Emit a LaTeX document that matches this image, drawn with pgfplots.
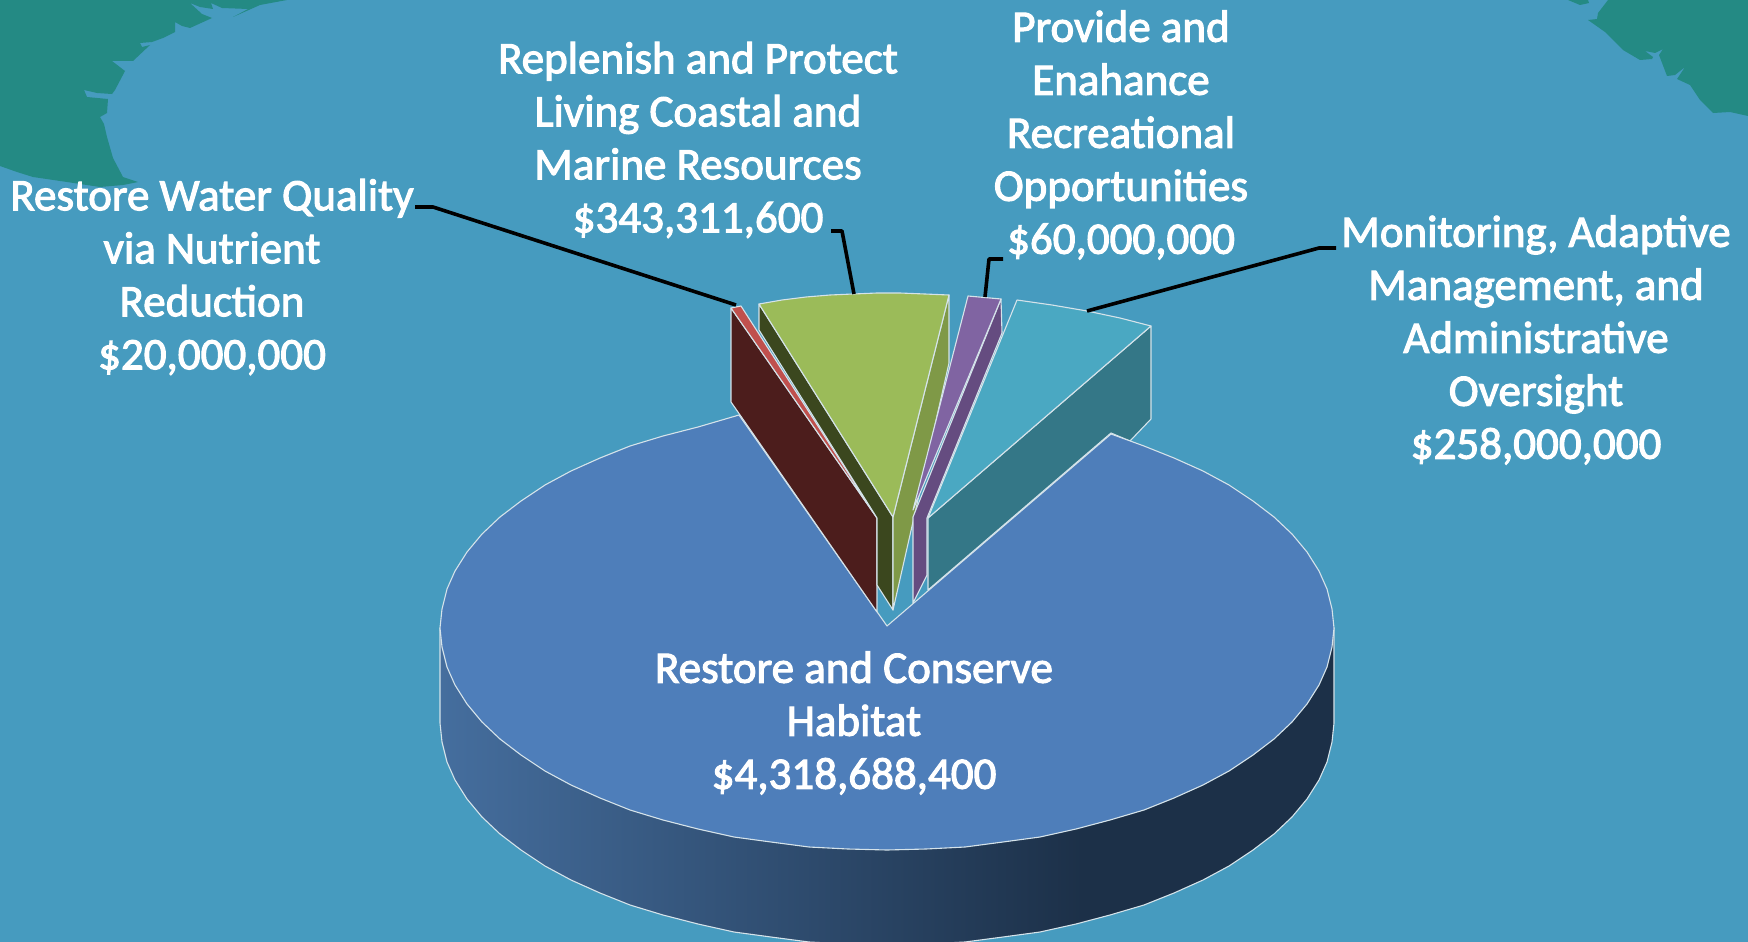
\documentclass[border=0pt]{standalone}
\usepackage{fontspec}
\setmainfont{Carlito}[BoldFont=Carlito,BoldFeatures={FakeBold=2.4}]
\usepackage{pgfplots}
\pgfplotsset{compat=1.18}
\definecolor{sea}{HTML}{469BBF}
\definecolor{land}{HTML}{248A84}
\definecolor{edge}{HTML}{D5E3EA}
\definecolor{habtop}{HTML}{4E7EBA}
\definecolor{sideL}{HTML}{456E9E}
\definecolor{sideD}{HTML}{1C3048}
\definecolor{redtop}{HTML}{C0504D}
\definecolor{redside}{HTML}{4C1D1C}
\definecolor{greentop}{HTML}{9BBB59}
\definecolor{greendark}{HTML}{3B471E}
\definecolor{greenside}{HTML}{7F9947}
\definecolor{purptop}{HTML}{8064A2}
\definecolor{purpside}{HTML}{654C80}
\definecolor{cyantop}{HTML}{4AA8C2}
\definecolor{cyanside}{HTML}{347787}
\pgfdeclarehorizontalshading{rimshade}{100bp}{color(0bp)=(sideL); color(25bp)=(sideL); color(61bp)=(sideD); color(100bp)=(sideD)}
\tikzset{
    lab/.style={text=white, align=center, font=\fontsize{45}{53}\selectfont\bfseries},
    lead/.style={draw=black, line width=3.6pt},
    rim/.style={draw=edge, line width=1.1pt},
}
\begin{document}
\begin{tikzpicture}
\begin{axis}[
    scale only axis, width=1748pt, height=942pt,
    xmin=0, xmax=1748, ymin=0, ymax=942, y dir=reverse,
    hide axis,
    every axis plot/.append style={line join=round, no markers},
]
% sea and coasts
\addplot[fill=sea, draw=none] coordinates {(0,0)(1748,0)(1748,942)(0,942)} --cycle;
\addplot[fill=land, draw=none] coordinates {(287,0)(260,5)(233,17)(248,9)(222,8)(211,3)(213,9)(200,7)(190,3)(202,14)(212,18)(190,28)(182,26)(175,22)(175,32)(163,38)(152,42)(140,43)(142,47)(150,45)(133,61)(112,61)(125,71)(115,90)(112,94)(97,93)(84,90)(87,97)(108,99)(107,113)(100,117)(104,124)(107,137)(113,158)(123,177)(138,182)(123,185)(100,187)(67,182)(33,177)(17,172)(0,166)(0,0)} --cycle;
\addplot[fill=land, draw=none] coordinates {(1608,0)(1598,13)(1597,19)(1588,20)(1605,32)(1623,50)(1640,60)(1652,59)(1653,57)(1645,51)(1655,53)(1663,49)(1659,55)(1667,76)(1675,75)(1685,67)(1677,79)(1690,85)(1700,100)(1713,113)(1730,112)(1748,116)(1748,0)} --cycle;
\addplot[fill=land, draw=none] coordinates {(1568,0)(1580,5)(1589,3)(1588,0)} --cycle;
% rim of the big slice
\addplot[rim, shading=rimshade] coordinates {(1334,628)(1334,723)(1332,742)(1327,762)(1319,780)(1307,799)(1292,817)(1274,834)(1253,850)(1229,866)(1203,880)(1174,893)(1144,905)(1110,915)(1076,924)(1040,932)(1003,937)(965,942)(926,944)(887,945)(848,944)(809,942)(771,937)(734,932)(698,924)(663,915)(630,905)(600,893)(571,880)(545,866)(521,850)(500,834)(482,817)(467,799)(455,780)(447,762)(442,742)(440,723)(440,628)} --cycle;
% teal side sits behind the big slice
\addplot[rim, fill=cyanside] coordinates {(928,518)(928,590)(1111,433)(1130,441)(1151,419)(1151,326)} --cycle;
% big slice, top face
\addplot[rim, fill=habtop] coordinates {(887,626)(1111,434)(1144,446)(1174,458)(1203,471)(1229,485)(1253,501)(1274,517)(1292,534)(1307,552)(1319,571)(1327,589)(1332,609)(1334,628)(1332,647)(1327,667)(1319,685)(1307,704)(1292,722)(1274,739)(1253,755)(1229,771)(1203,785)(1174,798)(1144,810)(1110,820)(1076,829)(1040,837)(1003,842)(965,847)(926,849)(887,850)(848,849)(809,847)(771,842)(734,837)(698,829)(663,820)(630,810)(600,798)(571,785)(545,771)(521,755)(500,739)(482,722)(467,704)(455,685)(447,667)(442,647)(440,628)(442,609)(447,589)(455,571)(467,552)(482,534)(500,517)(521,501)(545,485)(571,471)(600,458)(630,446)(663,436)(698,427)(739,415)} --cycle;
% water quality
\addplot[rim, fill=redside] coordinates {(731,308)(731,402)(877,612)(877,518)} --cycle;
\addplot[rim, fill=redtop] coordinates {(731,308)(741,306)(877,518)} --cycle;
% living coastal and marine
\addplot[rim, fill=greendark] coordinates {(759,304)(893,517)(893,610)(877,585)(877,518)(759,330)} --cycle;
\addplot[rim, fill=greenside] coordinates {(949,295)(949,363)(893,610)(893,517)} --cycle;
\addplot[rim, fill=greentop] coordinates {(759,304)(782,300)(806,297)(830,295)(853,294)(877,293)(900,293)(925,294)(949,295)(893,517)} --cycle;
% recreation
\addplot[rim, fill=purpside] coordinates {(1001,299)(1002,333)(927,518)(927,575)(913,603)(913,517)} --cycle;
\addplot[rim, fill=purptop] coordinates {(968,296)(1001,299)(913,510)} --cycle;
% monitoring
\addplot[rim, fill=cyantop] coordinates {(1017,300)(1052,305)(1087,311)(1120,318)(1151,326)(928,518)} --cycle;
% leader lines
\addplot[lead] coordinates {(415,207)(433,207)(736,305)};
\addplot[lead] coordinates {(831,231)(842,231)(854,294)};
\addplot[lead] coordinates {(1003,259)(989,259)(985,297)};
\addplot[lead] coordinates {(1336,248)(1319,248)(1087,311)};
% labels
\node[lab] at (axis cs:212,277) {Restore Water Quality\\via Nutrient\\Reduction\\\$20,000,000};
\node[lab] at (axis cs:698,140) {Replenish and Protect\\Living  Coastal and\\Marine Resources\\\$343,311,600};
\node[lab] at (axis cs:1121,135) {Provide and\\Enahance\\Recreational\\Opportunities\\\$60,000,000};
\node[lab] at (axis cs:1536,340) {Monitoring, Adaptive\\Management, and\\Administrative\\Oversight\\\$258,000,000};
\node[lab] at (axis cs:854,723) {Restore and Conserve\\Habitat\\\$4,318,688,400};
\end{axis}
\end{tikzpicture}
\end{document}
